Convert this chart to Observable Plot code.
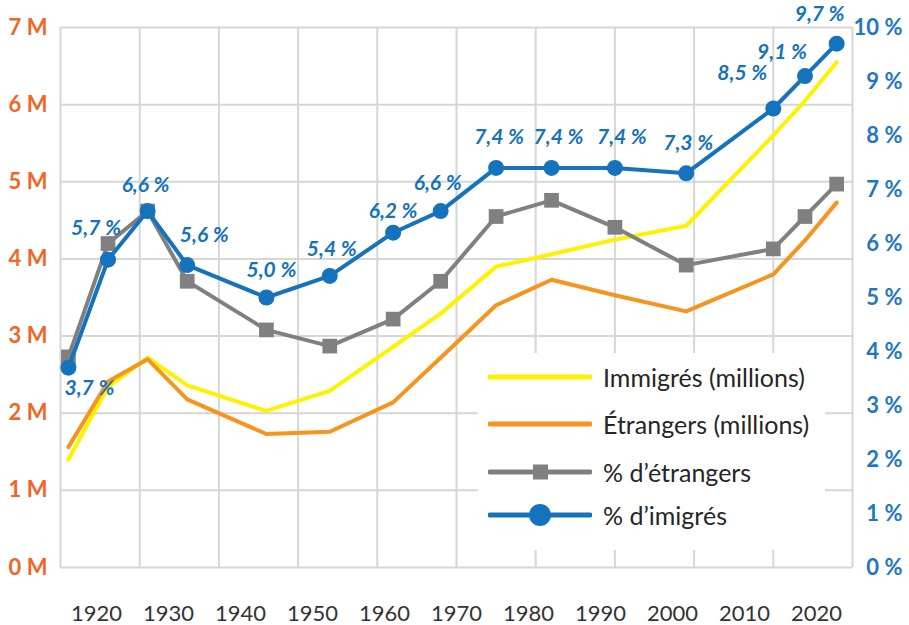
<!DOCTYPE html>
<html>
<head>
<meta charset="utf-8">
<script src="https://cdn.jsdelivr.net/npm/d3@7"></script>
<script src="https://cdn.jsdelivr.net/npm/@observablehq/plot@0.6"></script>
<style>
  html, body { margin: 0; padding: 0; background: #fff; }
  #wrap { position: relative; width: 909px; height: 625px; font-family: Lato, "Open Sans", sans-serif; }
  #legend { position: absolute; left: 478px; top: 353px; width: 347px; height: 197px; background: #fff; }
  .item { position: absolute; left: 10px; height: 30px; display: flex; align-items: center; }
  .item svg { display: block; }
  .item span { margin-left: 11px; font-size: 25px; color: #262626; white-space: nowrap; }
</style>
</head>
<body>
<div id="wrap"></div>
<script>
// ---- data ----
const years = [1921, 1926, 1931, 1936, 1946, 1954, 1962, 1968, 1975, 1982, 1990, 1999, 2010, 2014, 2018];
const immigres = [1.40, 2.34, 2.72, 2.36, 2.03, 2.29, 2.86, 3.29, 3.90, 4.06, 4.25, 4.43, 5.60, 6.05, 6.55];
const etrangers = [1.56, 2.41, 2.70, 2.18, 1.73, 1.76, 2.14, 2.72, 3.40, 3.73, 3.53, 3.32, 3.80, 4.24, 4.73];
const pctEtrangers = [3.9, 6.0, 6.6, 5.3, 4.4, 4.1, 4.6, 5.3, 6.5, 6.8, 6.3, 5.6, 5.9, 6.5, 7.1];
const pctImmigres = [3.7, 5.7, 6.6, 5.6, 5.0, 5.4, 6.2, 6.6, 7.4, 7.4, 7.4, 7.3, 8.5, 9.1, 9.7];
const xTicks = [1920, 1930, 1940, 1950, 1960, 1970, 1980, 1990, 2000, 2010, 2020];
const leftTicks = [0, 1, 2, 3, 4, 5, 6, 7];
const rightTicks = [0, 1, 2, 3, 4, 5, 6, 7, 8, 9, 10];
const seriesNames = ["Immigrés (millions)", "Étrangers (millions)", "% d’étrangers", "% d’imigrés"];

// ---- styling / layout ----
const C = { yellow: "#FFF200", orange: "#F7941D", gray: "#808083", blue: "#1572BC",
            leftLab: "#F26522", rightLab: "#1F77C4", grid: "#D6D6D6", text: "#262626" };
const k = 7 / 10; // 10 % on the right axis == 7 M on the left axis
// label offsets [dx, dy] for each % d'immigrés point
const labelOffsets = [[21, 21], [-12, -31], [-2, -26], [17, -30], [5, -27], [2, -27], [0, -21], [-3, -28],
                      [3, -31], [7, -31], [7, -31], [2, -30], [-31, -35], [-23, -24], [-17, -29]];

const rows = years.map((y, i) => ({
  year: y, imm: immigres[i], etr: etrangers[i],
  pe: pctEtrangers[i] * k, pi: pctImmigres[i] * k,
  label: pctImmigres[i].toFixed(1).replace(".", ",") + " %"
}));

const labelMarks = rows.map((r, i) => Plot.text([r], {
  x: "year", y: "pi", text: "label", dx: labelOffsets[i][0], dy: labelOffsets[i][1],
  fill: C.blue, fontSize: 21, fontWeight: "bold", fontStyle: "italic", lineAnchor: "middle"
}));

const chart = Plot.plot({
  width: 909, height: 625,
  marginLeft: 60, marginRight: 57, marginTop: 27, marginBottom: 58,
  x: { domain: [1920, 2020], axis: null },
  y: { domain: [0, 7], axis: null },
  style: { fontFamily: "Lato, 'Open Sans', sans-serif", background: "transparent", overflow: "visible" },
  marks: [
    Plot.gridX(xTicks, { stroke: C.grid, strokeOpacity: 1, strokeWidth: 2 }),
    Plot.gridY(leftTicks, { stroke: C.grid, strokeOpacity: 1, strokeWidth: 2 }),
    Plot.axisY(leftTicks, { anchor: "left", tickSize: 0, tickPadding: 13, label: null,
      tickFormat: d => `${d} M`, fill: C.leftLab, fontSize: 22, fontWeight: "bold" }),
    Plot.axisY(rightTicks.map(d => d * k), { anchor: "right", tickSize: 0, tickPadding: 0, dx: 50,
      textAnchor: "end", label: null, tickFormat: d => `${Math.round(d / k)} %`,
      fill: C.rightLab, fontSize: 22, fontWeight: "bold" }),
    // x tick labels (the reference's label row is slightly compressed around 1970)
    Plot.text(xTicks, { x: d => 1970 + (d - 1970) * 0.909, frameAnchor: "bottom", dy: 53,
      lineAnchor: "bottom", text: d => String(d), fill: "#333", fontSize: 22 }),
    Plot.line(rows, { x: "year", y: "imm", stroke: C.yellow, strokeWidth: 4 }),
    Plot.line(rows, { x: "year", y: "etr", stroke: C.orange, strokeWidth: 4 }),
    Plot.line(rows, { x: "year", y: "pe", stroke: C.gray, strokeWidth: 4 }),
    Plot.dot(rows, { x: "year", y: "pe", symbol: "square", r: 8.3, fill: C.gray }),
    Plot.line(rows, { x: "year", y: "pi", stroke: C.blue, strokeWidth: 4 }),
    Plot.dot(rows, { x: "year", y: "pi", symbol: "circle", r: 8, fill: C.blue }),
    ...labelMarks
  ]
});

const wrap = document.getElementById("wrap");
wrap.appendChild(chart);

// legend (inside the plot area, white box)
const legend = document.createElement("div");
legend.id = "legend";
const legendTops = [9, 56, 104, 147];
const sw = (color, marker) => {
  let m = "";
  if (marker === "square") m = `<rect x="45" y="7.5" width="15" height="15" fill="${color}"/>`;
  if (marker === "circle") m = `<circle cx="52" cy="15" r="11" fill="${color}"/>`;
  return `<svg width="104" height="30"><line x1="2" x2="102" y1="15" y2="15" stroke="${color}" stroke-width="5" stroke-linecap="round"/>${m}</svg>`;
};
const specs = [[C.yellow, null], [C.orange, null], [C.gray, "square"], [C.blue, "circle"]];
seriesNames.forEach((name, i) => {
  const it = document.createElement("div");
  it.className = "item";
  it.style.top = legendTops[i] + "px";
  it.innerHTML = sw(specs[i][0], specs[i][1]) + `<span>${name}</span>`;
  legend.appendChild(it);
});
wrap.appendChild(legend);
</script>
</body>
</html>
